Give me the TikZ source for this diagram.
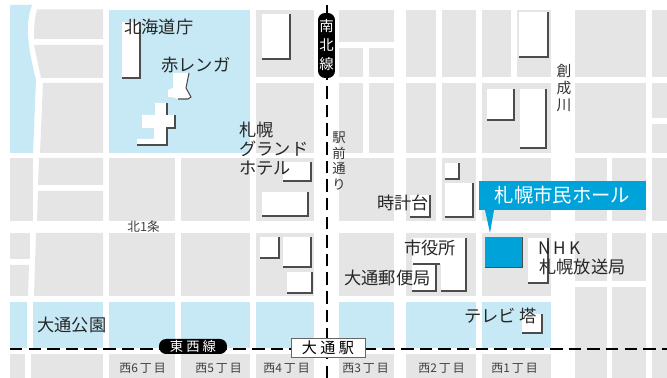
\documentclass[tikz,border=0pt]{standalone}
\usepackage{fontspec}
\setmainfont{Noto Sans CJK JP}
\usepackage{tikz}
\colorlet{blockgray}{black!10}
\definecolor{parkblue}{HTML}{C6E9F5}
\definecolor{hallblue}{HTML}{00A3D9}
\colorlet{shadowgray}{black!70}
\tikzset{
    label/.style={anchor=west,inner sep=0pt,text=black!85,font=\fontsize{9.8}{11}\selectfont},
    smalllabel/.style={anchor=west,inner sep=0pt,text=black!75,font=\fontsize{6.8}{7}\selectfont},
    columnlabel/.style={inner sep=0pt,align=center,text=black!80},
    subway/.style={line width=1.7pt,dash pattern=on 7.1pt off 3.5pt},
    linebadge/.style={fill=black,text=white,rounded corners=4pt,inner sep=0pt,align=center},
}
\begin{document}
\begin{tikzpicture}[x=0.02cm,y=-0.02cm]
            \useasboundingbox (0,0) rectangle (667,378);

            % city blocks
            \foreach \xa/\xb in {109/175,181/250,256/314,339/394,406/436,442/476,482/551,575/607,612/646,652/667} {
                \fill [blockgray] (\xa,158) rectangle (\xb,221);
            }
            \foreach \xa/\xb in {109/175,181/250,256/314,339/394,406/476,482/551,652/667} {
                \fill [blockgray] (\xa,233) rectangle (\xb,296);
            }
            \foreach \xa/\xb in {256/314,406/436,442/476,482/511,517/551,575/646,652/667} {
                \fill [blockgray] (\xa,10) rectangle (\xb,77);
            }
            \foreach \xa/\xb in {256/314,339/363,369/394,406/436,442/476,482/551,575/646} {
                \fill [blockgray] (\xa,83) rectangle (\xb,153);
            }
            \foreach \xa/\xb in {31/103,109/175,181/250,256/314,339/394,406/476,482/551,652/667} {
                \fill [blockgray] (\xa,354) rectangle (\xb,378);
            }
            \foreach \xa/\xb in {575/607,612/646,652/667} {
                \fill [blockgray] (\xa,287) rectangle (\xb,378);
                \fill [blockgray] (\xa,233) rectangle (\xb,281);
            }
            \fill [blockgray] (339,10) rectangle (394,42);
            \fill [blockgray] (339,48) rectangle (363,77);
            \fill [blockgray] (369,48) rectangle (394,77);
            \fill [blockgray] (652,83) rectangle (667,118);
            \fill [blockgray] (652,124) rectangle (667,153);
            \fill [blockgray] (37,9.5) -- (103,9.5) -- (103,39) -- (34,39) .. controls (34,30) and (34,20) .. cycle;
            \fill [blockgray] (34,45) -- (103,45) -- (103,78) -- (41,78) -- cycle;
            \fill [blockgray] (43,83) -- (103,83) -- (103,153) -- (40,153) -- cycle;
            \fill [blockgray] (10,158) rectangle (33,221);
            \fill [blockgray] (39,158) -- (103,158) -- (103,185) -- (38,185) -- cycle;
            \fill [blockgray] (38,191) -- (103,191) -- (103,221) -- (37,221) -- cycle;
            \fill [blockgray] (10,233) -- (30,233) -- (30,259) -- (10,259) -- cycle;
            \fill [blockgray] (10,265) -- (29,265) -- (28,296) -- (10,296) -- cycle;
            \fill [blockgray] (36,233) -- (103,233) -- (103,296) -- (34,296) -- cycle;
            \fill [blockgray] (10,354) rectangle (25,378);

            % parks
            \fill [parkblue] (10,5) -- (32,5) .. controls (26,22) and (26,40) .. (36,80) -- (33,153) -- (10,153) -- cycle;
            \fill [parkblue] (109,10) rectangle (250,153);
            \foreach \xa/\xb in {10/27,33/103,109/175,181/250,256/314,339/394,406/476,482/551} {
                \fill [parkblue] (\xa,302) rectangle (\xb,348);
            }

            % buildings
            \foreach \xa/\ya/\xb/\yb in {122/22/140/78,262/14/290/59,283/162/311/181,519/12/548/57,487/89/514/120,
                    520/89/546/148,445/163/459/179,445/183/473/217,410/195/430/217,262/192/308/216,260/237/279/258,
                    283/237/311/267,287/272/312/293,412/265/436/291,528/238/548/283,522/314/542/333} {
                \fill [white] (\xa,\ya) rectangle (\xb,\yb);
                \draw [shadowgray,line width=0.6pt] (\xa,\yb) -- (\xb,\yb) -- (\xb,\ya);
            }
            \fill [white] (412,238) -- (466,238) -- (466,291) -- (441,291) -- (441,264) -- (412,264) -- cycle;
            \draw [shadowgray,line width=0.6pt] (466,238) -- (466,291) -- (441,291);
            \draw [shadowgray,line width=0.6pt] (413,264) -- (440,264);
            \fill [white] (412,265) rectangle (436,291);
            \draw [shadowgray,line width=0.6pt] (412,291) -- (436,291) -- (436,265);
            \fill [white] (173,73) -- (189,73) -- (186,88) -- (191,97) -- (188,99) -- (178,99) -- (172,97) -- (168,97) -- (168,90) -- (173,88) -- cycle;
            \draw [shadowgray,line width=0.6pt] (189,73) -- (186,88) -- (191,97) -- (188,99) -- (178,99);
            \fill [white] (155,103) -- (167,103) -- (167,115) -- (175,115) -- (175,128) -- (167,128) -- (167,145) -- (137,145)
                -- (137,139) -- (154,139) -- (154,128) -- (142,128) -- (142,115) -- (155,115) -- cycle;
            \draw [shadowgray,line width=0.6pt] (167,103) -- (167,115);
            \draw [shadowgray,line width=0.6pt] (175,115) -- (175,128) -- (167,128) -- (167,145) -- (137,145);

            % subway lines
            \coordinate (northend) at (327,5);
            \coordinate (southend) at (327,378);
            \coordinate (westend) at (10,349);
            \coordinate (eastend) at (667,349);
            \coordinate (hallpoint) at (490,233);
            \draw [line width=1.7pt] (northend) -- (327,20);
            \draw [subway] (southend) -- (327,70);
            \draw [subway] (westend) -- (eastend);

            \node [linebadge,minimum width=0.34cm,minimum height=1.3cm,font=\fontsize{8.2}{10.8}\selectfont] (nanboku) at (326.5,45.5) {南\\北\\線};
            \node [linebadge,minimum width=1.36cm,minimum height=0.3cm,font=\fontsize{7.6}{8}\selectfont] (tozai) at (193,346.5) {東 西 線};
            \node [draw=black!60,fill=white,inner sep=0pt,line width=0.5pt,minimum width=1.48cm,minimum height=0.38cm,font=\fontsize{8.6}{10}\selectfont] (odoristation) at (328,347.5) {大 通 駅};

            % hall
            \node [fill=hallblue,inner sep=0pt,minimum width=0.74cm,minimum height=0.6cm] (hallsite) at (503.5,252) {};
            \draw [shadowgray,line width=0.6pt] (hallsite.south west) -- (hallsite.south east) -- (hallsite.north east);
            \node [fill=hallblue,text=white,inner sep=0pt,minimum width=3.34cm,minimum height=0.58cm,font=\fontsize{11}{13}\selectfont] (hallcallout) at (562.5,195.5) {札幌市民ホール};
            \fill [hallblue] (485,210) -- (494,210) -- (hallpoint) -- cycle;

            % labels
            \node [label] (dochou) at (124,27) {北海道庁};
            \node [label] (akarenga) at (161,65) {赤レンガ};
            \node [label] (grandone) at (239,130) {札幌};
            \node [label] (grandtwo) at (239,149) {グランド};
            \node [label] (grandthree) at (239,168) {ホテル};
            \node [label] (tokeidai) at (377,203) {時計台};
            \node [label] (shiyakusho) at (404,248) {市役所};
            \node [label] (yubinkyoku) at (344,278) {大通郵便局};
            \node [label] (nhk) at (538,248) {N\,H\,K};
            \node [label] (housoukyoku) at (539,267) {札幌放送局};
            \node [label] (terebitou) at (464,316) {テレビ 塔};
            \node [label] (odoripark) at (37,325) {大通公園};
            \node [columnlabel,anchor=north,font=\fontsize{7.6}{9.1}\selectfont] (ekimae) at (339,131) {駅\\前\\通\\り};
            \node [columnlabel,anchor=north,font=\fontsize{8.4}{9.6}\selectfont] (soseigawa) at (564,64) {創\\成\\川};
            \node [smalllabel,font=\fontsize{7.2}{8}\selectfont] (kitaichijo) at (127,227) {北1条};

            \foreach \x/\n in {119/6,195/5,263/4,342/3,418/2,491/1} {
                \node [smalllabel] (nishi\n) at (\x,368) {西\n\,丁\,目};
            }
        \end{tikzpicture}
\end{document}
